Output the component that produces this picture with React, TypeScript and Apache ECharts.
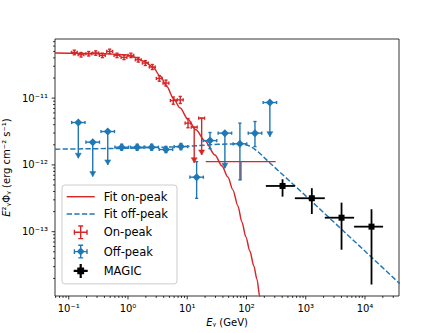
import React, { useEffect, useRef } from 'react';
import * as echarts from 'echarts';

const FONT = 'DejaVu Sans';
const RED = '#d62728';
const BLUE = '#1f77b4';
const BLACK = '#000000';

const X_MIN = 0.0586;
const X_MAX = 37500;
const Y_MIN = 1.09e-14;
const Y_MAX = 7.67e-11;

const xMajorTicks = [0.1, 1, 10, 100, 1000, 10000];
const yMajorTicks = [1e-13, 1e-12, 1e-11];

// Fit curves
const fitOnE = [0.0587, 0.337, 0.89, 1.31, 1.94, 2.64, 3.47, 4.55, 5.81, 7.53, 10.3, 14.0, 19.9, 29.3, 38.5, 48.5, 59.0, 71.6, 83.6, 97.7, 114, 133, 150, 168, 182];
const fitOnF = [4.73e-11, 4.65e-11, 4.46e-11, 4.09e-11, 3.5e-11, 2.9e-11, 2.16e-11, 1.48e-11, 1.0e-11, 7.16e-12, 4.81e-12, 3.35e-12, 2.29e-12, 1.41e-12, 9.66e-13, 6.61e-13, 4.22e-13, 2.43e-13, 1.4e-13, 8.33e-14, 5.14e-14, 3.06e-14, 1.95e-14, 1.05e-14, 6.7e-15];

const fitOffE = [0.0587, 1, 9.15, 32.9, 77.4, 93, 106, 122, 139, 160, 182, 212, 248, 796, 5546, 38600];
const fitOffF = [1.72e-12, 1.77e-12, 1.88e-12, 2.04e-12, 2.06e-12, 2.03e-12, 1.96e-12, 1.85e-12, 1.71e-12, 1.55e-12, 1.39e-12, 1.22e-12, 1.07e-12, 4.15e-13, 8.34e-14, 1.67e-14];

// On-peak points (flag: 0 = error bar, 1 = upper limit, 2 = plain bar)
const onE = [0.124, 0.161, 0.217, 0.285, 0.369, 0.491, 0.653, 0.856, 1.12, 1.49, 1.96, 2.57, 3.37, 4.37, 5.81, 7.62, 10.3, 13.1, 17.5, 80.5];
const onElo = [0.111, 0.144, 0.194, 0.254, 0.329, 0.438, 0.583, 0.764, 1.0, 1.33, 1.75, 2.29, 3.01, 3.9, 5.19, 6.8, 9.2, 11.7, 15.6, 20.5];
const onEhi = [0.139, 0.18, 0.243, 0.319, 0.413, 0.55, 0.731, 0.959, 1.25, 1.67, 2.2, 2.88, 3.77, 4.89, 6.51, 8.53, 11.5, 14.7, 19.6, 310];
const onF = [4.83e-11, 4.46e-11, 4.61e-11, 4.73e-11, 4.36e-11, 5.0e-11, 4.36e-11, 4.07e-11, 4.36e-11, 3.75e-11, 3.35e-11, 2.92e-11, 1.97e-11, 1.68e-11, 9.2e-12, 9.4e-12, 4.22e-12, 3.67e-12, 5.01e-12, 1.12e-12];
const onFlo = [4.45e-11, 4.12e-11, 4.27e-11, 4.38e-11, 4.04e-11, 4.63e-11, 4.04e-11, 3.77e-11, 4.04e-11, 3.46e-11, 3.08e-11, 2.68e-11, 1.79e-11, 1.52e-11, 8.1e-12, 8.3e-12, 3.6e-12, 1.08e-12, 1.41e-12, 5.96e-13];
const onFhi = [5.22e-11, 4.82e-11, 4.98e-11, 5.1e-11, 4.7e-11, 5.4e-11, 4.7e-11, 4.4e-11, 4.7e-11, 4.06e-11, 3.64e-11, 3.18e-11, 2.17e-11, 1.86e-11, 1.04e-11, 1.06e-11, 4.95e-12, 3.67e-12, 5.01e-12, 1.12e-12];
const onFlag = [0, 0, 0, 0, 0, 0, 0, 0, 0, 0, 0, 0, 0, 0, 0, 0, 0, 1, 1, 2];

// Off-peak points
const offE = [0.145, 0.254, 0.455, 0.783, 1.43, 2.51, 4.37, 7.83, 14.4, 24.2, 43.2, 77.4, 139, 248];
const offElo = [0.112, 0.195, 0.35, 0.602, 1.1, 1.93, 3.36, 6.02, 11.1, 18.6, 33.2, 59.5, 107, 191];
const offEhi = [0.188, 0.33, 0.592, 1.02, 1.86, 3.26, 5.68, 10.2, 18.7, 31.5, 56.2, 101, 181, 322];
const offF = [4.31e-12, 2.19e-12, 3.16e-12, 1.84e-12, 1.84e-12, 1.84e-12, 1.7e-12, 1.88e-12, 6.55e-13, 2.31e-12, 2.99e-12, 2.07e-12, 2.99e-12, 8.59e-12];
const offFlo = [1.26e-12, 6.68e-13, 1.0e-12, 1.66e-12, 1.66e-12, 1.66e-12, 1.53e-12, 1.69e-12, 3.16e-13, 1.75e-12, 8.9e-13, 5.96e-13, 1.88e-12, 2.65e-12];
const offFhi = [4.31e-12, 2.19e-12, 3.16e-12, 2.04e-12, 2.04e-12, 2.04e-12, 1.89e-12, 2.09e-12, 1.12e-12, 3.05e-12, 2.99e-12, 4.22e-12, 4.46e-12, 8.59e-12];
const offFlag = [1, 1, 1, 0, 0, 0, 0, 0, 0, 0, 1, 0, 0, 1];

// MAGIC points
const magE = [406, 1267, 4018, 12880];
const magElo = [212, 655, 2099, 6546];
const magEhi = [655, 2099, 6546, 20200];
const magF = [4.84e-13, 3.17e-13, 1.62e-13, 1.19e-13];
const magFlo = [3.35e-13, 1.84e-13, 5.37e-14, 1.62e-14];
const magFhi = [6.1e-13, 4.48e-13, 2.72e-13, 2.17e-13];

const SUP: Record<string, string> = { '0': '⁰', '1': '¹', '2': '²', '3': '³', '4': '⁴', '5': '⁵', '6': '⁶', '7': '⁷', '8': '⁸', '9': '⁹', '-': '⁻' };
const powLabel = (v: number) => {
  const l = Math.log10(v);
  const r = Math.round(l);
  if (Math.abs(l - r) > 1e-6) return '';
  return '10' + String(r).split('').map((c) => SUP[c] || c).join('');
};

const pack = (e: number[], el: number[], eh: number[], f: number[], fl: number[], fh: number[], flag?: number[]) =>
  e.map((x, i) => [x, f[i], el[i], eh[i], fl[i], fh[i], flag ? flag[i] : 0]);

function errRender(st: { color: string; lw: number; cap: number; marker: string; ms: number }) {
  return (params: any, api: any) => {
    const x = api.value(0);
    const y = api.value(1);
    const c = api.coord([x, y]);
    const cx = c[0];
    const cy = c[1];
    const xl = api.coord([api.value(2), y])[0];
    const xh = api.coord([api.value(3), y])[0];
    const yl = api.coord([x, api.value(4)])[1];
    const yh = api.coord([x, api.value(5)])[1];
    const flag = api.value(6);
    const s = { stroke: st.color, lineWidth: st.lw, fill: null };
    const kids: any[] = [
      { type: 'line', shape: { x1: xl, y1: cy, x2: xh, y2: cy }, style: s },
      { type: 'line', shape: { x1: cx, y1: yh, x2: cx, y2: yl }, style: s },
    ];
    if (st.cap > 0 && flag !== 2) {
      const k = st.cap;
      kids.push({ type: 'line', shape: { x1: xl, y1: cy - k, x2: xl, y2: cy + k }, style: s });
      kids.push({ type: 'line', shape: { x1: xh, y1: cy - k, x2: xh, y2: cy + k }, style: s });
      kids.push({ type: 'line', shape: { x1: cx - k, y1: yh, x2: cx + k, y2: yh }, style: s });
      if (flag === 0) kids.push({ type: 'line', shape: { x1: cx - k, y1: yl, x2: cx + k, y2: yl }, style: s });
    }
    if (flag === 1) {
      kids.push({ type: 'polygon', shape: { points: [[cx - 3, yl - 5], [cx + 3, yl - 5], [cx, yl]] }, style: { fill: st.color, stroke: st.color, lineWidth: 0.5 } });
    }
    const m = st.ms;
    if (st.marker === 'diamond') {
      kids.push({ type: 'polygon', shape: { points: [[cx, cy - m], [cx + m, cy], [cx, cy + m], [cx - m, cy]] }, style: { fill: st.color } });
    } else if (st.marker === 'square') {
      kids.push({ type: 'rect', shape: { x: cx - m, y: cy - m, width: 2 * m, height: 2 * m }, style: { fill: st.color } });
    }
    return { type: 'group', children: kids };
  };
}

const ICON_LINE = 'path://M0,0H28V1.45H0Z';
const ICON_DASH = 'path://M0,0H5.3V1.45H0Z M7.6,0H12.9V1.45H7.6Z M15.2,0H20.5V1.45H15.2Z M22.8,0H28V1.45H22.8Z';
const ICON_ON = 'path://M0,9H20V11H0Z M9,0H11V20H9Z M6.5,0H13.5V2H6.5Z M6.5,18H13.5V20H6.5Z M0,6.5H2V13.5H0Z M18,6.5H20V13.5H18Z';
const ICON_OFF = 'path://M0,9H20V11H0Z M9,0H11V20H9Z M6.5,0H13.5V2H6.5Z M6.5,18H13.5V20H6.5Z M0,6.5H2V13.5H0Z M18,6.5H20V13.5H18Z M10,4.3L15.7,10L10,15.7L4.3,10Z';
const ICON_MAG = 'path://M1,8.6H19V11.4H1Z M8.6,1H11.4V19H8.6Z M5.6,5.6H14.4V14.4H5.6Z';

export default function App() {
  const ref = useRef<HTMLDivElement>(null);
  useEffect(() => {
    if (!ref.current) return;
    const chart = echarts.init(ref.current, undefined, { renderer: 'svg' });

    const xMinor: number[] = [];
    const yMinor: number[] = [];
    for (let k = -2; k <= 4; k++) for (let m = 2; m <= 9; m++) {
      const v = m * Math.pow(10, k);
      if (v > X_MIN && v < X_MAX) xMinor.push(v);
    }
    for (let k = -15; k <= -11; k++) for (let m = 2; m <= 9; m++) {
      const v = m * Math.pow(10, k);
      if (v > Y_MIN && v < Y_MAX) yMinor.push(v);
    }
    const xTickData = [...xMajorTicks.map((v) => [v, Y_MAX, 1]), ...xMinor.map((v) => [v, Y_MAX, 0])];
    const yTickData = [...yMajorTicks.map((v) => [X_MAX, v, 1]), ...yMinor.map((v) => [X_MAX, v, 0])];

    const tickStyle = { stroke: '#000', lineWidth: 0.8 };

    chart.setOption({
      animation: false,
      backgroundColor: '#ffffff',
      textStyle: { fontFamily: FONT },
      grid: { left: 55, right: 45, top: 39, bottom: 37, show: true, borderColor: '#000', borderWidth: 0.8, backgroundColor: 'transparent', containLabel: false, outerBoundsMode: 'none' },
      xAxis: {
        type: 'log', logBase: 10, min: X_MIN, max: X_MAX, splitNumber: 6,
        axisLine: { show: false }, axisTick: { show: false }, splitLine: { show: false }, minorTick: { show: false },
        axisLabel: { formatter: powLabel, color: '#000', fontSize: 10, fontFamily: FONT, margin: 7 },
        name: '{i|E}ᵧ (GeV)', nameLocation: 'middle', nameGap: 21,
        nameTextStyle: { color: '#000', fontSize: 10, fontFamily: FONT, rich: { i: { fontStyle: 'italic', fontSize: 10, fontFamily: FONT, color: '#000' } } },
      },
      yAxis: {
        type: 'log', logBase: 10, min: Y_MIN, max: Y_MAX, splitNumber: 4,
        axisLine: { show: false }, axisTick: { show: false }, splitLine: { show: false }, minorTick: { show: false },
        axisLabel: { formatter: powLabel, color: '#000', fontSize: 10, fontFamily: FONT, margin: 7 },
        name: '{i|E}²ᵧΦᵧ (erg cm⁻² s⁻¹)', nameLocation: 'middle', nameGap: 38, nameRotate: 90,
        nameTextStyle: { color: '#000', fontSize: 10, fontFamily: FONT, rich: { i: { fontStyle: 'italic', fontSize: 10, fontFamily: FONT, color: '#000' } } },
      },
      legend: {
        orient: 'vertical', left: 62, top: 185,
        padding: [5.7, 9, 6, 4.7],
        itemWidth: 28, itemHeight: 14, itemGap: 5.3,
        backgroundColor: 'rgba(255,255,255,0.8)', borderColor: '#cccccc', borderWidth: 1, borderRadius: 3,
        selectedMode: false,
        textStyle: { fontFamily: FONT, fontSize: 11.5, color: '#000', padding: [0, 0, 0, 4] },
        data: [
          { name: 'Fit on-peak', icon: ICON_LINE },
          { name: 'Fit off-peak', icon: ICON_DASH },
          { name: 'On-peak', icon: ICON_ON },
          { name: 'Off-peak', icon: ICON_OFF },
          { name: 'MAGIC', icon: ICON_MAG },
        ],
      },
      series: [
        {
          name: 'Fit on-peak', type: 'line', z: 2, symbol: 'none', showSymbol: false, smooth: 0.3, smoothMonotone: 'x',
          data: fitOnE.map((e, i) => [e, fitOnF[i]]),
          itemStyle: { color: RED }, lineStyle: { color: RED, width: 1.45 },
        },
        {
          name: 'Fit off-peak', type: 'line', z: 2, symbol: 'none', showSymbol: false, smooth: false,
          data: fitOffE.map((e, i) => [e, fitOffF[i]]),
          itemStyle: { color: BLUE }, lineStyle: { color: BLUE, width: 1.45, type: [5.3, 2.3] },
        },
        {
          name: 'On-peak', type: 'custom', z: 3, itemStyle: { color: RED },
          renderItem: errRender({ color: RED, lw: 1.4, cap: 1.6, marker: 'none', ms: 0 }),
          data: pack(onE, onElo, onEhi, onF, onFlo, onFhi, onFlag),
        },
        {
          name: 'Off-peak', type: 'custom', z: 4, itemStyle: { color: BLUE },
          renderItem: errRender({ color: BLUE, lw: 1.4, cap: 1.6, marker: 'diamond', ms: 4 }),
          data: pack(offE, offElo, offEhi, offF, offFlo, offFhi, offFlag),
        },
        {
          name: 'MAGIC', type: 'custom', z: 5, itemStyle: { color: BLACK },
          renderItem: errRender({ color: BLACK, lw: 1.8, cap: 0, marker: 'square', ms: 3 }),
          data: pack(magE, magElo, magEhi, magF, magFlo, magFhi),
        },
        {
          type: 'custom', silent: true, z: 6,
          renderItem: (params: any, api: any) => {
            const cs = params.coordSys;
            const px = api.coord([api.value(0), Y_MAX])[0];
            const len = api.value(2) ? 3.4 : 1.9;
            const yb = cs.y + cs.height;
            return { type: 'line', shape: { x1: px, y1: yb, x2: px, y2: yb + len }, style: tickStyle };
          },
          data: xTickData,
        },
        {
          type: 'custom', silent: true, z: 6,
          renderItem: (params: any, api: any) => {
            const cs = params.coordSys;
            const py = api.coord([X_MAX, api.value(1)])[1];
            const len = api.value(2) ? 3.4 : 1.9;
            return { type: 'line', shape: { x1: cs.x - len, y1: py, x2: cs.x, y2: py }, style: tickStyle };
          },
          data: yTickData,
        },
      ],
    });
    return () => chart.dispose();
  }, []);
  return <div ref={ref} style={{ position: 'fixed', left: 0, top: 0, width: 444, height: 333 }} />;
}
